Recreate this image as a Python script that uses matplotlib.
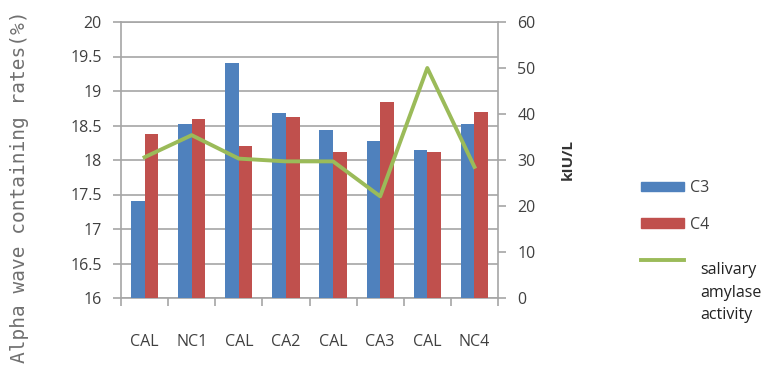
import numpy as np
import matplotlib.pyplot as plt
from matplotlib.patches import Patch
from matplotlib.lines import Line2D

categories = ["CAL", "NC1", "CAL", "CA2", "CAL", "CA3", "CAL", "NC4"]
c3 = [17.40, 18.52, 19.41, 18.68, 18.44, 18.28, 18.15, 18.52]
c4 = [18.38, 18.59, 18.21, 18.62, 18.12, 18.84, 18.11, 18.69]
amylase = [30.6, 35.4, 30.3, 29.7, 29.7, 22.1, 50.0, 28.5]

blue = '#4F81BD'
red = '#C0504D'
green = '#9BBB59'
grid = '#a6a6a6'
txt = '#404040'

plt.rcParams['font.family'] = ['Open Sans', 'DejaVu Sans']

fig = plt.figure(figsize=(7.83, 3.72), dpi=100)
ax = fig.add_axes([121 / 783, 1 - 298 / 372, 377 / 783, 276 / 372])

x = np.arange(len(categories))
w = 0.29
ax.bar(x - w / 2, c3, w, color=blue, zorder=3)
ax.bar(x + w / 2, c4, w, color=red, zorder=3)
ax.set_ylim(16, 20)
ax.set_xlim(-0.5, len(categories) - 0.5)
ax.set_yticks(np.arange(16, 20.01, 0.5))
ax.set_yticklabels(['16', '16.5', '17', '17.5', '18', '18.5', '19', '19.5', '20'])
ax.yaxis.grid(True, color=grid, lw=1.2, zorder=0)
ax.set_xticks(np.arange(-0.5, len(categories), 1))
ax.set_xticklabels([])
ax.set_xticks(x, minor=True)
ax.set_xticklabels(categories, minor=True)
ax.tick_params(axis='x', which='minor', length=0, pad=26, labelsize=11.5, labelcolor=txt)
ax.tick_params(axis='x', which='major', length=6, color=grid, width=1.2)
ax.tick_params(axis='y', length=6, color=grid, width=1.2, labelsize=11.5, labelcolor=txt, pad=8)
for s in ax.spines.values():
    s.set_color(grid)
    s.set_linewidth(1.2)
fig.text(20 / 783, 1 - 187 / 372, 'Alpha wave containing rates(%)', family='DejaVu Sans Mono',
         fontsize=14, color='#707070', rotation=90, ha='center', va='center')

ax2 = ax.twinx()
ax2.plot(x, amylase, color=green, lw=2.8, zorder=4)
ax2.set_ylim(0, 60)
ax2.set_yticks(np.arange(0, 61, 10))
ax2.tick_params(axis='y', length=6, color=grid, width=1.2, labelsize=11.5, labelcolor=txt, pad=8)
for s in ax2.spines.values():
    s.set_visible(False)
ax2.set_ylabel('kIU/L', fontweight='bold', fontsize=11, color='#333333', labelpad=18)

handles = [Patch(color=blue), Patch(color=red), Line2D([], [], color=green, lw=2.8)]
fig.legend(handles, ['C3', 'C4', ''], loc='upper left', bbox_to_anchor=(0.8, 0.555),
           frameon=False, fontsize=11.5, handlelength=2.7, handleheight=0.5,
           handletextpad=0.4, labelspacing=1.3, labelcolor=txt)
fig.text(700 / 783, 1 - 262 / 372, 'salivary\namylase\nactivity', fontsize=11.5,
         color='#222222', va='top', ha='left', linespacing=1.55)

fig.savefig('out.png', dpi=100)
